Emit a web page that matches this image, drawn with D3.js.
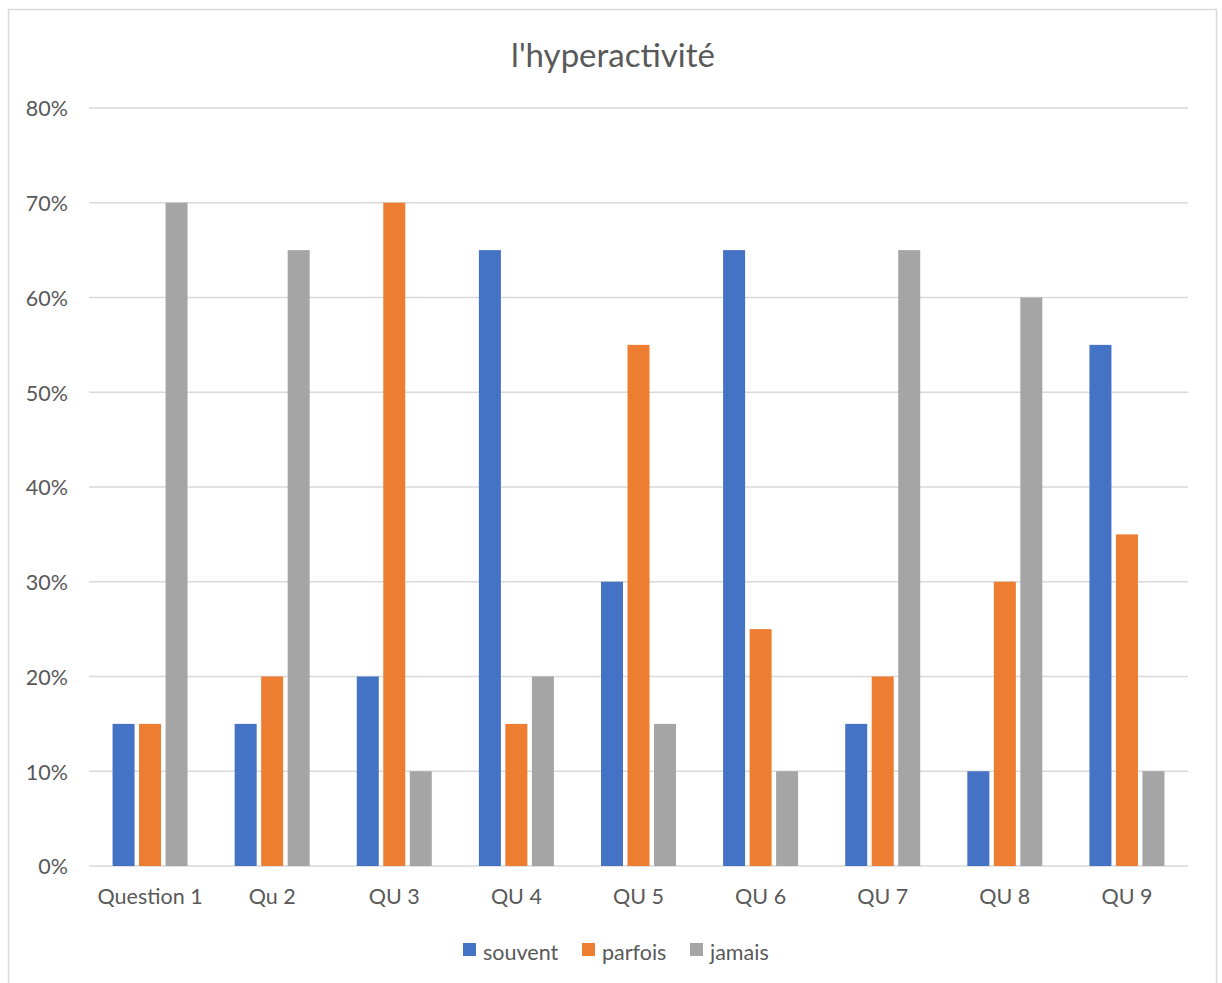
<!DOCTYPE html>
<html>
<head>
<meta charset="utf-8">
<script src="https://cdn.jsdelivr.net/npm/d3@7"></script>
<style>
  html, body { margin: 0; padding: 0; background: #fff; }
  svg { display: block; font-family: Lato, "Open Sans", sans-serif; }
</style>
</head>
<body>
<svg id="chart" width="1222" height="983"></svg>
<script>
const categories = ["Question 1", "Qu 2", "QU 3", "QU 4", "QU 5", "QU 6", "QU 7", "QU 8", "QU 9"];
const seriesNames = ["souvent", "parfois", "jamais"];
const souvent = [0.15, 0.15, 0.20, 0.65, 0.30, 0.65, 0.15, 0.10, 0.55];
const parfois = [0.15, 0.20, 0.70, 0.15, 0.55, 0.25, 0.20, 0.30, 0.35];
const jamais  = [0.70, 0.65, 0.10, 0.20, 0.15, 0.10, 0.65, 0.60, 0.10];
const yTicks = [0, 0.1, 0.2, 0.3, 0.4, 0.5, 0.6, 0.7, 0.8];
const colors = ["#4472C4", "#ED7D31", "#A5A5A5"];
const title = "l'hyperactivité";

const seriesValues = [souvent, parfois, jamais];
const rows = categories.map((c, i) => ({
  cat: c,
  vals: seriesNames.map((s, j) => ({ key: s, value: seriesValues[j][i], color: colors[j] }))
}));

const svg = d3.select("#chart");
const textColor = "#595959";
const labelSize = 21.5;

// outer frame
svg.append("rect")
  .attr("x", 8.5).attr("y", 9.5)
  .attr("width", 1208).attr("height", 1000)
  .attr("fill", "#fff").attr("stroke", "#d9d9d9").attr("stroke-width", 1.5);

const plot = { left: 89, right: 1188, top: 108, bottom: 866 };

const x0 = d3.scaleBand().domain(categories).range([plot.left, plot.right]).padding(0);
const groupW = 75;
const x1 = d3.scaleBand().domain(seriesNames).range([0, groupW]).paddingInner(0.17).paddingOuter(0);
const y = d3.scaleLinear().domain([0, 0.8]).range([plot.bottom, plot.top]);

// horizontal gridlines
svg.append("g")
  .selectAll("line")
  .data(yTicks)
  .join("line")
  .attr("x1", plot.left).attr("x2", plot.right)
  .attr("y1", d => y(d)).attr("y2", d => y(d))
  .attr("stroke", "#d9d9d9").attr("stroke-width", 1.5);

// y axis labels
const yAxis = d3.axisLeft(y).tickValues(yTicks).tickFormat(d3.format(".0%")).tickSize(0).tickPadding(0);
const yg = svg.append("g").attr("transform", `translate(${plot.left - 21},1)`).call(yAxis);
yg.select(".domain").remove();
yg.selectAll("text").attr("fill", textColor).attr("font-size", labelSize).attr("font-family", "Lato, 'Open Sans', sans-serif");

// x axis labels
const xAxis = d3.axisBottom(x0).tickSize(0).tickPadding(0);
const xg = svg.append("g").attr("transform", `translate(0,${plot.bottom + 23})`).call(xAxis);
xg.select(".domain").remove();
xg.selectAll("text").attr("fill", textColor).attr("font-size", labelSize).attr("font-family", "Lato, 'Open Sans', sans-serif");

// bars
const groups = svg.append("g")
  .selectAll("g")
  .data(rows)
  .join("g")
  .attr("transform", d => `translate(${x0(d.cat) + (x0.bandwidth() - groupW) / 2},0)`);

groups.selectAll("rect")
  .data(d => d.vals)
  .join("rect")
  .attr("x", d => x1(d.key))
  .attr("width", x1.bandwidth())
  .attr("y", d => y(d.value))
  .attr("height", d => y(0) - y(d.value))
  .attr("fill", d => d.color);

// title
svg.append("text")
  .attr("x", 613).attr("y", 67)
  .attr("text-anchor", "middle")
  .attr("fill", textColor)
  .attr("font-size", 33)
  .text(title);

// legend
const legendItems = [
  { name: seriesNames[0], color: colors[0], x: 463 },
  { name: seriesNames[1], color: colors[1], x: 582 },
  { name: seriesNames[2], color: colors[2], x: 690 }
];
const lg = svg.append("g");
lg.selectAll("rect")
  .data(legendItems)
  .join("rect")
  .attr("x", d => d.x).attr("y", 943)
  .attr("width", 13).attr("height", 13)
  .attr("fill", d => d.color);
lg.selectAll("text")
  .data(legendItems)
  .join("text")
  .attr("x", d => d.x + 20).attr("y", 960)
  .attr("fill", textColor)
  .attr("font-size", labelSize)
  .text(d => d.name);
</script>
</body>
</html>
